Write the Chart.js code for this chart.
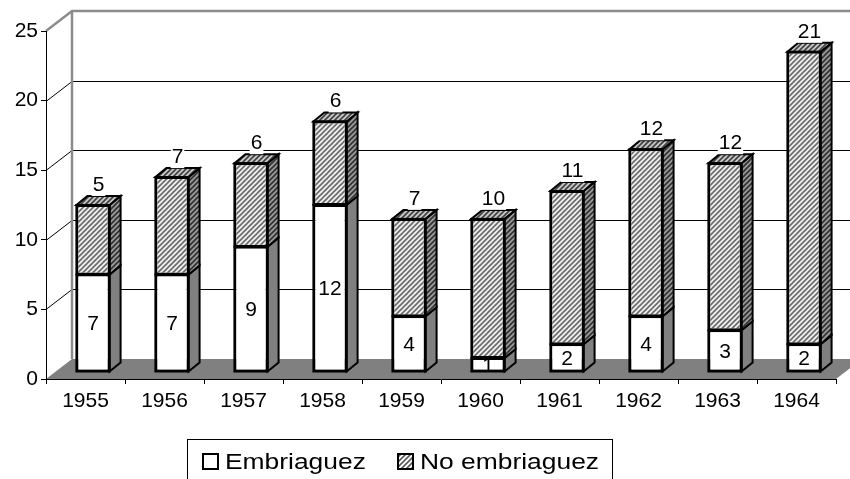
<!DOCTYPE html>
<html><head><meta charset="utf-8">
<script src="https://cdn.jsdelivr.net/npm/chart.js@4.4.1/dist/chart.umd.min.js"></script>
<style>html,body{margin:0;padding:0;background:#fff}</style>
</head><body>
<canvas id="c" width="850" height="479"></canvas>
<script>
// ---- data ----
const years = ['1955','1956','1957','1958','1959','1960','1961','1962','1963','1964'];
const embriaguez = [7, 7, 9, 12, 4, 1, 2, 4, 3, 2];
const noEmbriaguez = [5, 7, 6, 6, 7, 10, 11, 12, 12, 21];
const seriesNames = ['Embriaguez', 'No embriaguez'];
const yMin = 0, yMax = 25, yStep = 5;

// ---- style ----
const FONT = '"Liberation Sans", Arial, sans-serif';
const FS = 21;
const WALL_DX = 26, WALL_DY = -20;   // depth of the floor / side wall
const BAR_OX = 7.5, BAR_OY = -7;     // bar front plane offset
const BAR_DX = 11, BAR_DY = -9;      // bar depth

const canvas = document.getElementById('c');
const mainCtx = canvas.getContext('2d');
function hatch(bg, fg, size, lw) {
  const c = document.createElement('canvas');
  c.width = c.height = size;
  const g = c.getContext('2d');
  g.fillStyle = bg; g.fillRect(0, 0, size, size);
  g.strokeStyle = fg; g.lineWidth = lw;
  g.beginPath();
  g.moveTo(-1, size + 1); g.lineTo(size + 1, -1);
  g.moveTo(-2, 2); g.lineTo(2, -2);
  g.moveTo(size - 2, size + 2); g.lineTo(size + 2, size - 2);
  g.stroke();
  return mainCtx.createPattern(c, 'repeat');
}
const patFront = hatch('#ffffff', '#5a5a5a', 5, 1.6);
const patSide = hatch('#9a9a9a', '#303030', 5, 1.6);
const patTop = hatch('#c8c8c8', '#404040', 5, 1.6);

const threeD = {
  id: 'threeD',
  beforeDraw(chart) {
    const ctx = chart.ctx, a = chart.chartArea, y = chart.scales.y;
    ctx.save();
    ctx.fillStyle = '#fff';
    ctx.fillRect(0, 0, chart.width, chart.height);
    ctx.strokeStyle = '#000'; ctx.lineWidth = 1;
    for (let v = yMin + yStep; v < yMax; v += yStep) {
      const yy = Math.round(y.getPixelForValue(v)) + 0.5;
      ctx.beginPath();
      ctx.moveTo(a.left, yy);
      ctx.lineTo(a.left + WALL_DX, yy + WALL_DY);
      ctx.lineTo(chart.width, yy + WALL_DY);
      ctx.stroke();
    }
    const y0 = y.getPixelForValue(yMin);
    ctx.fillStyle = '#808080';
    ctx.beginPath();
    ctx.moveTo(a.left, y0);
    ctx.lineTo(a.right, y0);
    ctx.lineTo(a.right + WALL_DX, y0 + WALL_DY);
    ctx.lineTo(a.left + WALL_DX, y0 + WALL_DY);
    ctx.closePath();
    ctx.fill();
    const yt = y.getPixelForValue(yMax);
    ctx.strokeStyle = '#8c8c8c'; ctx.lineWidth = 2.5;
    ctx.beginPath();
    ctx.moveTo(a.left, yt);
    ctx.lineTo(a.left + WALL_DX, yt + WALL_DY);
    ctx.lineTo(chart.width, yt + WALL_DY);
    ctx.moveTo(a.left + WALL_DX, yt + WALL_DY);
    ctx.lineTo(a.left + WALL_DX, y0 + WALL_DY);
    ctx.stroke();
    ctx.restore();
  },
  beforeDatasetsDraw(chart) {
    chart.ctx.save();
    chart.ctx.translate(BAR_OX, BAR_OY);
  },
  afterDatasetsDraw(chart) {
    const ctx = chart.ctx;
    ctx.restore();
    ctx.save();
    const nSets = chart.data.datasets.length;
    const faces = [];
    for (let d = 0; d < nSets; d++) {
      const meta = chart.getDatasetMeta(d);
      meta.data.forEach((bar, i) => {
        const p = bar.getProps(['x', 'y', 'base', 'width'], true);
        const l = p.x - p.width / 2 + BAR_OX, r = p.x + p.width / 2 + BAR_OX;
        const t = Math.min(p.y, p.base) + BAR_OY, b = Math.max(p.y, p.base) + BAR_OY;
        faces.push({ d, i, l, r, t, b, cx: p.x + BAR_OX });
      });
    }
    ctx.lineWidth = 2; ctx.strokeStyle = '#000'; ctx.lineJoin = 'miter';
    faces.forEach(f => {
      ctx.fillStyle = f.d === 0 ? '#808080' : patSide;
      ctx.beginPath();
      ctx.moveTo(f.r, f.t);
      ctx.lineTo(f.r + BAR_DX, f.t + BAR_DY);
      ctx.lineTo(f.r + BAR_DX, f.b + BAR_DY);
      ctx.lineTo(f.r, f.b);
      ctx.closePath();
      ctx.fill(); ctx.stroke();
      if (f.d === nSets - 1) {
        ctx.fillStyle = patTop;
        ctx.beginPath();
        ctx.moveTo(f.l, f.t);
        ctx.lineTo(f.l + BAR_DX, f.t + BAR_DY);
        ctx.lineTo(f.r + BAR_DX, f.t + BAR_DY);
        ctx.lineTo(f.r, f.t);
        ctx.closePath();
        ctx.fill(); ctx.stroke();
      }
      ctx.strokeRect(f.l, f.t, f.r - f.l, f.b - f.t);
    });
    ctx.font = FS + 'px ' + FONT;
    ctx.textAlign = 'center'; ctx.textBaseline = 'middle';
    faces.forEach(f => {
      const val = chart.data.datasets[f.d].data[f.i];
      const txt = String(val);
      if (f.d === 0) {
        ctx.fillStyle = '#000';
        ctx.fillText(txt, f.cx, (f.t + f.b) / 2 + 1);
      } else {
        const cx = f.cx + BAR_DX / 2, cy = f.t - 21;
        const w = ctx.measureText(txt).width + 2;
        ctx.fillStyle = '#fff';
        ctx.fillRect(cx - w / 2, cy - 11, w, 23);
        ctx.fillStyle = '#000';
        ctx.fillText(txt, cx, cy + 1);
      }
    });
    ctx.restore();
  },
  afterDraw(chart) {
    const ctx = chart.ctx;
    ctx.save();
    ctx.strokeStyle = '#000'; ctx.lineWidth = 1;
    ctx.strokeRect(187.5, 439.5, 425, 60);
    const items = [{ x: 203, tx: 225, fill: '#fff' }, { x: 398, tx: 420, fill: patFront }];
    items.forEach((it, k) => {
      ctx.fillStyle = it.fill;
      ctx.fillRect(it.x, 454, 15, 15);
      ctx.lineWidth = 2; ctx.strokeStyle = '#000';
      ctx.strokeRect(it.x, 454, 15, 15);
      ctx.save();
      ctx.translate(it.tx, 469);
      ctx.scale(1.2, 1);
      ctx.font = '22px ' + FONT;
      ctx.textAlign = 'left'; ctx.textBaseline = 'alphabetic';
      ctx.fillStyle = '#000';
      ctx.fillText(seriesNames[k], 0, 0);
      ctx.restore();
    });
    ctx.restore();
  }
};

new Chart(canvas, {
  type: 'bar',
  data: {
    labels: years,
    datasets: [
      { label: seriesNames[0], data: embriaguez, backgroundColor: '#ffffff', borderColor: '#000', borderWidth: 2, borderSkipped: false, barPercentage: 0.42, categoryPercentage: 1 },
      { label: seriesNames[1], data: noEmbriaguez, backgroundColor: patFront, borderColor: '#000', borderWidth: 2, borderSkipped: false, barPercentage: 0.42, categoryPercentage: 1 }
    ]
  },
  options: {
    responsive: false,
    devicePixelRatio: 1,
    animation: false,
    layout: { padding: { top: 31, right: 14, left: 0, bottom: 0 } },
    plugins: { legend: { display: false }, tooltip: { enabled: false } },
    scales: {
      x: {
        stacked: true,
        grid: { display: true, drawOnChartArea: false, drawTicks: true, tickLength: 5, color: '#000', offset: true },
        border: { display: true, color: '#000', width: 1 },
        ticks: { color: '#000', font: { family: FONT, size: FS }, padding: 5, maxRotation: 0, autoSkip: false },
        afterFit(s) { s.height = 100; }
      },
      y: {
        stacked: true, min: yMin, max: yMax,
        grid: { display: true, drawOnChartArea: false, drawTicks: true, tickLength: 5, color: '#000' },
        border: { display: true, color: '#000', width: 1 },
        ticks: { stepSize: yStep, color: '#000', font: { family: FONT, size: FS }, padding: 3 },
        afterFit(s) { s.width = 46; }
      }
    }
  },
  plugins: [threeD]
});
</script>
</body></html>
